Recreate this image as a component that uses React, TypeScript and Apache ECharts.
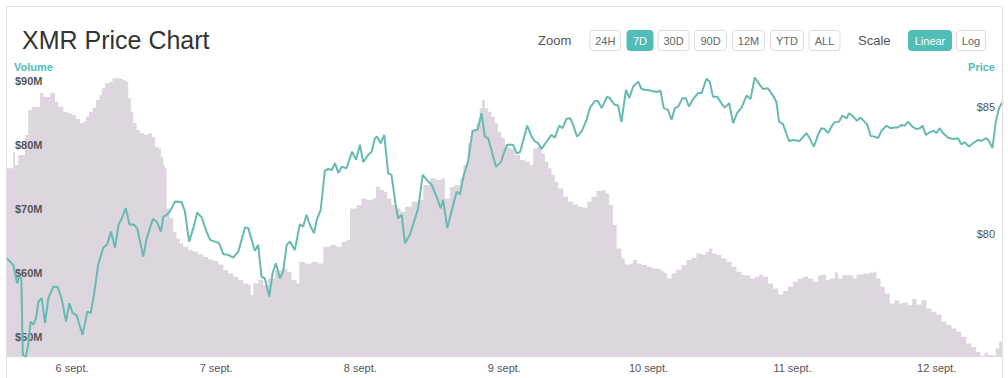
import React, { useEffect, useRef } from "react";
import * as echarts from "echarts";

const FONT = "'Liberation Sans', Arial, Helvetica, sans-serif";
const TEAL = "#66bab2";
const TEAL_BTN = "#4fbeb9";
const VOL_FILL = "#ddd6de";

// hours since Sept 5, 13:00 ; day ticks at midnight
const dayTicks = [11, 35, 59, 83, 107, 131, 155];
const dayLabels = ["6 sept.", "7 sept.", "8 sept.", "9 sept.", "10 sept.", "11 sept.", "12 sept."];
const volumeTicks = [50, 60, 70, 80, 90];
const priceTicks = [80, 85];
const zoomButtons = ["24H", "7D", "30D", "90D", "12M", "YTD", "ALL"];
const scaleButtons = ["Linear", "Log"];
const activeZoom = "7D";
const activeScale = "Linear";

// [hour, price USD]
const priceSeries: [number, number][] = [
  [0, 79.07], [1.2, 78.79], [1.8, 78.13], [1.9, 78.07], [2.2, 78.33], [2.55, 78.26], [2.8, 75.25], [3.3, 75.18],
  [3.7, 75.64], [4.1, 76.56], [4.55, 76.43], [5.0, 76.69], [5.4, 77.34], [5.95, 77.48], [6.5, 76.5], [7.05, 77.48],
  [7.9, 77.93], [8.55, 77.93], [9.25, 77.48], [10.0, 76.56], [10.55, 77.28], [11.1, 76.89], [11.75, 76.82], [12.75, 76.04],
  [13.55, 76.95], [14.1, 76.89], [14.65, 77.61], [15.35, 78.79], [16.2, 79.46], [16.85, 79.6], [17.5, 80.09], [18.15, 79.46],
  [18.75, 80.36], [19.3, 80.62], [19.95, 81.01], [20.55, 80.38], [21.3, 80.36], [21.85, 80.23], [22.85, 79.11], [23.45, 79.83],
  [24.45, 80.59], [25.1, 80.48], [25.8, 80.09], [26.2, 80.68], [26.75, 80.75], [27.3, 80.88], [28.15, 81.27], [29.25, 81.25],
  [29.8, 80.88], [30.5, 79.7], [31.2, 80.23], [31.85, 80.84], [32.6, 80.64], [33.4, 80.09], [34.0, 79.77], [34.8, 79.7],
  [35.5, 79.64], [36.2, 79.2], [37.0, 79.18], [37.85, 79.07], [38.7, 79.31], [39.8, 80.25], [40.35, 80.23], [41.45, 79.34],
  [42.0, 79.57], [42.55, 78.33], [43.1, 78.26], [43.85, 77.54], [44.4, 78.46], [44.95, 78.85], [45.6, 78.26], [46.15, 78.52],
  [46.75, 79.57], [47.3, 79.7], [48.1, 79.37], [48.95, 80.38], [49.5, 80.29], [50.05, 80.75], [50.6, 80.36], [51.3, 80.03],
  [51.75, 80.55], [52.4, 80.94], [53.1, 82.48], [53.65, 82.55], [54.25, 82.51], [54.8, 82.78], [55.35, 82.39], [55.9, 82.64],
  [56.7, 82.58], [57.65, 83.23], [58.3, 82.91], [58.95, 83.5], [59.5, 82.82], [60.3, 83.1], [60.9, 83.23], [61.45, 83.76],
  [61.8, 83.82], [62.4, 83.56], [63.0, 83.89], [63.65, 82.39], [64.2, 82.32], [64.9, 81.14], [65.3, 80.62], [65.9, 80.75],
  [66.45, 79.64], [67.25, 79.96], [68.65, 81.01], [69.4, 82.32], [70.3, 82.06], [70.9, 81.93], [71.7, 81.47], [72.4, 81.01],
  [72.8, 81.34], [73.5, 80.23], [74.2, 80.88], [75.05, 81.66], [75.6, 81.56], [76.25, 82.32], [76.95, 82.84], [77.7, 84.05],
  [78.55, 84.09], [79.2, 84.74], [79.75, 83.82], [80.3, 83.76], [80.85, 83.3], [81.6, 82.64], [82.5, 82.84], [82.8, 83.1],
  [83.45, 83.5], [84.45, 83.5], [85.05, 83.17], [85.6, 83.21], [86.25, 83.76], [86.8, 84.25], [87.55, 83.82], [88.1, 83.63],
  [88.65, 83.56], [89.2, 83.34], [90.05, 83.63], [90.85, 83.89], [91.4, 83.78], [92.15, 84.25], [92.7, 84.15], [93.35, 84.52],
  [94.0, 84.54], [94.45, 84.28], [95.1, 83.82], [95.85, 84.02], [96.7, 84.48], [97.25, 84.94], [98.05, 85.22], [98.6, 85.22],
  [99.2, 84.94], [100.1, 85.39], [100.55, 85.33], [101.25, 85.09], [101.95, 85.04], [102.5, 84.39], [103.25, 85.66], [103.8, 85.33],
  [104.45, 85.79], [105.3, 85.98], [105.85, 85.69], [106.4, 85.66], [107.5, 85.62], [108.35, 85.57], [109.0, 85.62], [109.55, 84.94],
  [110.25, 84.87], [110.85, 84.48], [111.4, 84.94], [111.95, 85.0], [112.65, 85.33], [113.2, 85.33], [113.75, 85.0], [114.35, 85.26],
  [115.25, 85.53], [115.85, 85.53], [116.65, 86.09], [117.2, 85.98], [117.75, 85.39], [118.45, 85.39], [119.15, 85.13], [119.7, 84.96],
  [120.45, 85.13], [121.1, 84.35], [121.75, 84.74], [122.5, 84.96], [123.35, 85.43], [124.0, 85.3], [124.7, 86.14], [125.45, 85.88],
  [126.1, 85.69], [126.9, 85.72], [127.65, 85.46], [128.3, 85.2], [128.75, 84.41], [129.4, 84.31], [130.4, 83.65], [131.1, 83.69],
  [132.2, 83.65], [133.3, 83.96], [133.85, 83.76], [134.55, 83.43], [135.25, 83.89], [135.8, 84.15], [136.35, 84.12], [136.9, 83.96],
  [137.65, 84.28], [138.05, 84.39], [138.75, 84.41], [139.3, 84.65], [140.0, 84.54], [140.4, 84.74], [141.1, 84.61], [141.75, 84.44],
  [142.3, 84.57], [143.05, 84.39], [143.4, 84.31], [144.0, 83.85], [144.7, 83.82], [145.25, 83.76], [145.8, 84.05], [146.65, 84.25],
  [147.3, 84.15], [148.0, 84.18], [148.55, 84.18], [149.15, 84.28], [149.7, 84.25], [150.25, 84.41], [150.95, 84.21], [151.65, 84.12],
  [152.2, 84.15], [152.65, 84.25], [153.2, 83.89], [153.85, 83.99], [154.5, 84.05], [154.95, 83.96], [155.5, 84.15], [156.05, 83.96],
  [156.9, 83.78], [157.75, 83.73], [158.55, 83.76], [159.1, 83.52], [159.65, 83.6], [160.4, 83.43], [161.05, 83.56], [161.9, 83.69],
  [162.45, 83.65], [163.3, 83.76], [163.7, 83.65], [164.3, 83.37], [164.85, 84.41], [165.4, 84.94], [166.05, 85.2],
];

// [hour, volume in $M]
const volumeSeries: [number, number][] = [
  [0, 76.36], [1.2, 78.86], [1.5, 76.88], [2.05, 78.44], [3.15, 81.56], [3.7, 85.47], [4.3, 85.94], [5.65, 88.13],
  [6.2, 87.5], [7.35, 88.13], [8.15, 86.77], [8.7, 85.98], [9.55, 85.2], [10.35, 84.95], [10.95, 84.69],
  [11.65, 84.06], [12.3, 83.39], [12.85, 83.64], [13.3, 84.42], [13.85, 85.2], [14.45, 85.83], [15.0, 87.03], [15.55, 87.81],
  [15.95, 88.86], [16.5, 89.64], [17.2, 89.89], [17.75, 90.42], [18.7, 90.31], [19.45, 90.16], [20.0, 89.89], [20.35, 87.3],
  [20.8, 85.16], [21.2, 83.44], [21.75, 82.34], [22.3, 81.83], [23.0, 81.56], [23.7, 81.83], [24.25, 81.25], [24.8, 79.73],
  [25.35, 79.48], [25.8, 78.17], [26.2, 76.88], [26.45, 76.36], [26.75, 70.11], [27.3, 68.55], [27.85, 66.45], [28.4, 65.42],
  [28.95, 64.64], [29.5, 64.11], [30.35, 63.59], [31.2, 63.33], [32.0, 62.92], [32.85, 62.5], [33.7, 62.14], [34.5, 61.88],
  [35.35, 61.36], [36.2, 60.47], [37.0, 59.95], [37.85, 59.42], [38.7, 58.91], [39.5, 58.39], [40.35, 58.13], [40.75, 56.56],
  [41.2, 58.39], [42.0, 58.91], [42.85, 58.13], [43.65, 59.17], [44.8, 60.47], [45.9, 60.73], [46.85, 60.2], [47.55, 58.91],
  [48.4, 58.39], [48.85, 61.77], [49.8, 61.52], [50.9, 61.77], [52.0, 61.52], [52.85, 64.11], [53.95, 64.38], [55.05, 64.11],
  [55.9, 64.89], [56.7, 65.16], [57.3, 70.11], [58.4, 70.63], [59.2, 71.67], [60.05, 71.41], [61.05, 71.67], [61.6, 73.48],
  [62.25, 72.97], [62.95, 72.7], [63.5, 71.67], [64.2, 70.63], [65.05, 70.11], [65.7, 69.58], [66.45, 70.36], [67.55, 71.14],
  [68.65, 71.41], [69.5, 73.75], [70.6, 74.8], [71.7, 74.53], [72.55, 74.8], [73.1, 71.67], [73.95, 73.48], [74.75, 73.75],
  [75.6, 74.8], [76.15, 76.88], [76.95, 80.27], [77.55, 82.34], [78.35, 83.39], [78.9, 85.73], [79.3, 87.03], [79.75, 85.73],
  [80.3, 85.2], [80.85, 84.42], [81.4, 83.39], [81.95, 82.08], [82.5, 81.05], [83.1, 79.73], [83.9, 79.48], [84.75, 78.44],
  [85.6, 77.66], [86.4, 77.39], [87.25, 76.88], [87.8, 79.48], [88.45, 79.73], [89.2, 78.7], [89.75, 77.39], [90.3, 76.36],
  [90.85, 75.31], [91.4, 74.27], [91.95, 73.23], [92.8, 71.92], [93.6, 71.14], [94.45, 70.73], [95.3, 70.36], [96.1, 70.2],
  [96.8, 71.14], [97.5, 71.92], [98.35, 72.81], [99.2, 72.97], [99.9, 72.45], [100.45, 70.63], [101.1, 67.5], [101.7, 63.86],
  [102.5, 62.3], [103.05, 61.36], [103.9, 61.52], [104.45, 62.03], [105.1, 61.52], [105.85, 61.25], [106.7, 60.98], [107.5, 60.73],
  [108.35, 60.63], [109.15, 60.31], [109.7, 59.95], [110.1, 59.17], [110.85, 59.95], [111.65, 60.47], [112.5, 61.25], [113.35, 62.03],
  [114.15, 62.39], [115.0, 63.08], [115.85, 62.92], [116.55, 63.33], [117.1, 63.86], [117.65, 63.08], [118.35, 62.81], [119.15, 62.3],
  [120.0, 61.77], [120.85, 60.98], [121.65, 60.2], [122.5, 59.69], [123.35, 59.58], [124.0, 59.17], [124.7, 59.42], [125.45, 59.8],
  [126.1, 59.42], [126.9, 58.39], [127.75, 57.61], [128.6, 56.67], [129.4, 57.19], [130.25, 57.86], [131.1, 58.64], [131.9, 59.17],
  [132.75, 59.42], [133.6, 59.17], [134.4, 58.64], [135.25, 59.58], [135.8, 59.8], [136.55, 58.91], [137.2, 59.17], [138.05, 60.11],
  [138.6, 59.17], [139.3, 59.69], [140.25, 59.58], [141.1, 59.17], [141.65, 59.8], [142.75, 59.95], [143.85, 60.11], [144.5, 60.2],
  [144.95, 59.17], [145.65, 57.86], [146.35, 56.83], [147.2, 55.27], [148.0, 55.78], [148.75, 55.27], [149.4, 55.42], [150.25, 55.0],
  [150.95, 55.94], [151.65, 55.11], [152.45, 55.78], [153.3, 54.48], [154.15, 53.95], [154.95, 53.55], [155.8, 52.39], [156.65, 51.88],
  [157.45, 51.36], [158.3, 50.83], [159.1, 50.05], [159.95, 49.02], [160.8, 48.48], [161.6, 47.7], [162.3, 47.08], [163.0, 47.61],
  [163.55, 47.19], [164.3, 47.08], [164.85, 48.23], [165.4, 49.27], [166.05, 50.05],
];

// layout of the header buttons (left x, width)
const zoomButtonBoxes: [number, number][] = [
  [589.5, 30.5], [626.5, 26], [657.5, 31], [694, 32], [732, 32], [770, 33], [808.5, 31],
];
const scaleButtonBoxes: [number, number][] = [[908, 43], [956, 29]];

function button(label: string, box: [number, number], active: boolean) {
  const [x, w] = box;
  return {
    type: "group",
    z: 100,
    children: [
      {
        type: "rect",
        shape: { x: x + 0.5, y: 30.5, width: w, height: 20, r: 3 },
        style: { fill: active ? TEAL_BTN : "#ffffff", stroke: active ? TEAL_BTN : "#dddddd", lineWidth: 1 },
      },
      {
        type: "text",
        style: {
          text: label,
          x: x + 0.5 + w / 2,
          y: 41,
          align: "center",
          verticalAlign: "middle",
          fontSize: 11,
          fontFamily: FONT,
          fill: active ? "#ffffff" : "#666666",
        },
      },
    ],
  };
}

function nearestLabel(v: number) {
  let best = 0;
  for (let i = 0; i < dayTicks.length; i++) {
    if (Math.abs(dayTicks[i] - v) < Math.abs(dayTicks[best] - v)) best = i;
  }
  return dayLabels[best];
}

export default function App() {
  const ref = useRef<HTMLDivElement>(null);

  useEffect(() => {
    if (!ref.current) return;
    const chart = echarts.init(ref.current, null, { renderer: "svg" });

    const graphics: any[] = [
      {
        type: "rect",
        z: 100,
        shape: { x: 6.5, y: 6.5, width: 996, height: 400 },
        style: { fill: "none", stroke: "#e2e2e2", lineWidth: 1 },
        silent: true,
      },
      {
        type: "text",
        z: 100,
        style: { text: "XMR Price Chart", x: 22, y: 40, verticalAlign: "middle", fontSize: 25, fontFamily: FONT, fill: "#333333" },
      },
      {
        type: "text",
        z: 100,
        style: { text: "Zoom", x: 538, y: 40, verticalAlign: "middle", fontSize: 13, fontFamily: FONT, fill: "#555555" },
      },
      {
        type: "text",
        z: 100,
        style: { text: "Scale", x: 858, y: 40, verticalAlign: "middle", fontSize: 13, fontFamily: FONT, fill: "#555555" },
      },
      {
        type: "text",
        z: 100,
        style: { text: "Volume", x: 14, y: 67, verticalAlign: "middle", fontSize: 11, fontWeight: "bold", fontFamily: FONT, fill: TEAL_BTN },
      },
      {
        type: "text",
        z: 100,
        style: { text: "Price", x: 995, y: 67, align: "right", verticalAlign: "middle", fontSize: 11, fontWeight: "bold", fontFamily: FONT, fill: TEAL_BTN },
      },
      ...zoomButtons.map((b, i) => button(b, zoomButtonBoxes[i], b === activeZoom)),
      ...scaleButtons.map((b, i) => button(b, scaleButtonBoxes[i], b === activeScale)),
    ];

    chart.setOption({
      animation: false,
      textStyle: { fontFamily: FONT },
      grid: { left: 6, right: 5, top: 75, bottom: 21, containLabel: false, outerBoundsMode: "none" },
      xAxis: {
        type: "value",
        min: 0,
        max: 166.05,
        z: 5,
        axisLine: { show: false },
        axisTick: { show: false },
        splitLine: { show: false },
        axisLabel: {
          customValues: dayTicks,
          formatter: (v: number) => nearestLabel(v),
          color: "#555555",
          fontSize: 11,
          margin: 5,
        },
      },
      yAxis: [
        {
          type: "value",
          position: "left",
          min: 46.9,
          max: 90.94,
          z: 5,
          axisLine: { show: false },
          axisTick: { show: false },
          splitLine: { show: false },
          axisLabel: {
            inside: true,
            customValues: volumeTicks,
            formatter: (v: number) => "$" + v + "M",
            color: "#555555",
            fontSize: 11,
            fontWeight: "bold",
            margin: 9,
          },
        },
        {
          type: "value",
          position: "right",
          min: 75.17,
          max: 86.24,
          z: 5,
          axisLine: { show: false },
          axisTick: { show: false },
          splitLine: { show: false },
          axisLabel: {
            inside: true,
            customValues: priceTicks,
            formatter: (v: number) => "$" + v,
            color: "#555555",
            fontSize: 11,
            margin: 8,
          },
        },
      ],
      series: [
        {
          name: "Volume",
          type: "line",
          yAxisIndex: 0,
          data: volumeSeries,
          step: "end",
          showSymbol: false,
          lineStyle: { width: 0 },
          itemStyle: { color: VOL_FILL },
          areaStyle: { color: VOL_FILL, opacity: 1, origin: "start" },
          silent: true,
          z: 1,
        },
        {
          name: "Price",
          type: "line",
          yAxisIndex: 1,
          data: priceSeries,
          showSymbol: false,
          lineStyle: { width: 2, color: TEAL },
          itemStyle: { color: TEAL },
          silent: true,
          z: 8,
        },
      ],
      graphic: graphics,
    });

    return () => chart.dispose();
  }, []);

  return (
    <div
      ref={ref}
      style={{ position: "fixed", left: 0, top: 0, width: 1008, height: 378, background: "#ffffff" }}
    />
  );
}
